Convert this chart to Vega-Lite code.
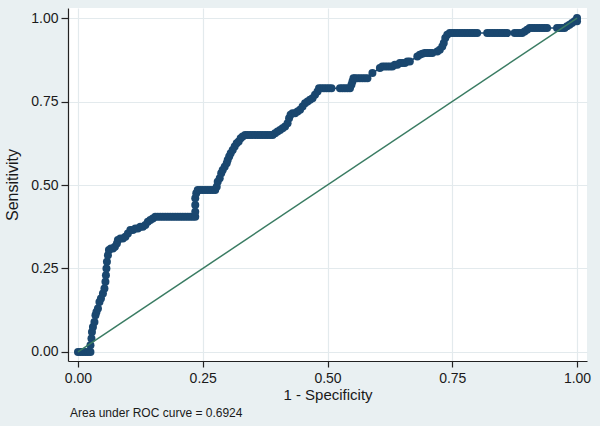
{
  "$schema": "https://vega.github.io/schema/vega-lite/v6.json",
  "width": 519,
  "height": 353,
  "autosize": {"type": "none"},
  "padding": {"left": 68, "top": 8, "right": 13, "bottom": 65},
  "background": "#e9f0f2",
  "config": {
    "font": "Liberation Sans",
    "view": {"fill": "white", "stroke": null},
    "axis": {
      "domainColor": "#222222",
      "domainWidth": 1.2,
      "tickColor": "#222222",
      "tickWidth": 1.2,
      "gridColor": "#e3eaed",
      "gridWidth": 1.2,
      "labelFont": "Liberation Sans",
      "labelFontSize": 14,
      "labelColor": "#1a1a1a",
      "titleFont": "Liberation Sans",
      "titleFontSize": 15,
      "titleFontWeight": "normal",
      "titleColor": "#1a1a1a"
    }
  },
  "title": {
    "text": "Area under ROC curve = 0.6924",
    "orient": "bottom",
    "anchor": "start",
    "frame": "group",
    "dx": 2,
    "offset": 6,
    "fontSize": 12,
    "fontWeight": "normal",
    "font": "Liberation Sans",
    "color": "#1a1a1a"
  },
  "datasets": {
    "roc": [
      {"fpr": 0, "sens": 0}, {"fpr": 0.005, "sens": 0}, {"fpr": 0.01, "sens": 0}, {"fpr": 0.015, "sens": 0}, {"fpr": 0.02, "sens": 0}, {"fpr": 0.025, "sens": 0},
      {"fpr": 0.025, "sens": 0.02}, {"fpr": 0.027, "sens": 0.04}, {"fpr": 0.028, "sens": 0.06}, {"fpr": 0.03, "sens": 0.075}, {"fpr": 0.033, "sens": 0.09},
      {"fpr": 0.035, "sens": 0.11}, {"fpr": 0.037, "sens": 0.12}, {"fpr": 0.04, "sens": 0.13}, {"fpr": 0.043, "sens": 0.15}, {"fpr": 0.046, "sens": 0.16},
      {"fpr": 0.05, "sens": 0.175}, {"fpr": 0.053, "sens": 0.19}, {"fpr": 0.055, "sens": 0.21}, {"fpr": 0.056, "sens": 0.23}, {"fpr": 0.057, "sens": 0.25},
      {"fpr": 0.058, "sens": 0.27}, {"fpr": 0.06, "sens": 0.29}, {"fpr": 0.062, "sens": 0.305}, {"fpr": 0.066, "sens": 0.31}, {"fpr": 0.07, "sens": 0.31},
      {"fpr": 0.074, "sens": 0.315}, {"fpr": 0.078, "sens": 0.325}, {"fpr": 0.08, "sens": 0.335}, {"fpr": 0.085, "sens": 0.34}, {"fpr": 0.09, "sens": 0.34},
      {"fpr": 0.095, "sens": 0.345}, {"fpr": 0.1, "sens": 0.355}, {"fpr": 0.105, "sens": 0.365}, {"fpr": 0.11, "sens": 0.365}, {"fpr": 0.115, "sens": 0.37},
      {"fpr": 0.12, "sens": 0.37}, {"fpr": 0.125, "sens": 0.375}, {"fpr": 0.13, "sens": 0.375}, {"fpr": 0.135, "sens": 0.38}, {"fpr": 0.14, "sens": 0.39},
      {"fpr": 0.145, "sens": 0.395}, {"fpr": 0.15, "sens": 0.4}, {"fpr": 0.155, "sens": 0.405},
      {"fpr": 0.16, "sens": 0.405}, {"fpr": 0.165, "sens": 0.405}, {"fpr": 0.17, "sens": 0.405}, {"fpr": 0.175, "sens": 0.405}, {"fpr": 0.18, "sens": 0.405},
      {"fpr": 0.185, "sens": 0.405}, {"fpr": 0.19, "sens": 0.405}, {"fpr": 0.195, "sens": 0.405}, {"fpr": 0.2, "sens": 0.405}, {"fpr": 0.205, "sens": 0.405},
      {"fpr": 0.21, "sens": 0.405}, {"fpr": 0.215, "sens": 0.405}, {"fpr": 0.22, "sens": 0.405}, {"fpr": 0.225, "sens": 0.405}, {"fpr": 0.23, "sens": 0.405},
      {"fpr": 0.235, "sens": 0.405}, {"fpr": 0.235, "sens": 0.42}, {"fpr": 0.235, "sens": 0.44}, {"fpr": 0.235, "sens": 0.46}, {"fpr": 0.237, "sens": 0.475},
      {"fpr": 0.24, "sens": 0.485}, {"fpr": 0.245, "sens": 0.485}, {"fpr": 0.25, "sens": 0.485}, {"fpr": 0.255, "sens": 0.485}, {"fpr": 0.26, "sens": 0.485},
      {"fpr": 0.265, "sens": 0.485}, {"fpr": 0.27, "sens": 0.485}, {"fpr": 0.275, "sens": 0.485},
      {"fpr": 0.278, "sens": 0.495}, {"fpr": 0.28, "sens": 0.51}, {"fpr": 0.284, "sens": 0.52}, {"fpr": 0.287, "sens": 0.535}, {"fpr": 0.29, "sens": 0.545},
      {"fpr": 0.294, "sens": 0.555}, {"fpr": 0.298, "sens": 0.565}, {"fpr": 0.3, "sens": 0.575}, {"fpr": 0.303, "sens": 0.585}, {"fpr": 0.306, "sens": 0.595},
      {"fpr": 0.31, "sens": 0.605}, {"fpr": 0.314, "sens": 0.615}, {"fpr": 0.318, "sens": 0.625}, {"fpr": 0.322, "sens": 0.63}, {"fpr": 0.326, "sens": 0.64},
      {"fpr": 0.33, "sens": 0.645}, {"fpr": 0.335, "sens": 0.65}, {"fpr": 0.34, "sens": 0.65}, {"fpr": 0.345, "sens": 0.65}, {"fpr": 0.35, "sens": 0.65},
      {"fpr": 0.355, "sens": 0.65}, {"fpr": 0.36, "sens": 0.65}, {"fpr": 0.365, "sens": 0.65}, {"fpr": 0.37, "sens": 0.65}, {"fpr": 0.375, "sens": 0.65},
      {"fpr": 0.38, "sens": 0.65}, {"fpr": 0.385, "sens": 0.65}, {"fpr": 0.39, "sens": 0.65},
      {"fpr": 0.395, "sens": 0.655}, {"fpr": 0.4, "sens": 0.66}, {"fpr": 0.405, "sens": 0.665}, {"fpr": 0.41, "sens": 0.67}, {"fpr": 0.415, "sens": 0.675},
      {"fpr": 0.42, "sens": 0.685}, {"fpr": 0.423, "sens": 0.7}, {"fpr": 0.426, "sens": 0.71}, {"fpr": 0.43, "sens": 0.715}, {"fpr": 0.435, "sens": 0.715},
      {"fpr": 0.44, "sens": 0.72}, {"fpr": 0.445, "sens": 0.725}, {"fpr": 0.45, "sens": 0.735}, {"fpr": 0.455, "sens": 0.745}, {"fpr": 0.46, "sens": 0.75},
      {"fpr": 0.465, "sens": 0.755}, {"fpr": 0.47, "sens": 0.76}, {"fpr": 0.475, "sens": 0.77}, {"fpr": 0.48, "sens": 0.78}, {"fpr": 0.483, "sens": 0.79},
      {"fpr": 0.488, "sens": 0.79}, {"fpr": 0.493, "sens": 0.79}, {"fpr": 0.498, "sens": 0.79}, {"fpr": 0.503, "sens": 0.79}, {"fpr": 0.508, "sens": 0.79},
      {"fpr": 0.525, "sens": 0.79}, {"fpr": 0.53, "sens": 0.79}, {"fpr": 0.535, "sens": 0.79}, {"fpr": 0.54, "sens": 0.79}, {"fpr": 0.545, "sens": 0.79},
      {"fpr": 0.548, "sens": 0.8}, {"fpr": 0.55, "sens": 0.81}, {"fpr": 0.552, "sens": 0.82}, {"fpr": 0.555, "sens": 0.82}, {"fpr": 0.56, "sens": 0.82},
      {"fpr": 0.565, "sens": 0.82}, {"fpr": 0.57, "sens": 0.82}, {"fpr": 0.575, "sens": 0.82}, {"fpr": 0.58, "sens": 0.82},
      {"fpr": 0.59, "sens": 0.835},
      {"fpr": 0.605, "sens": 0.85}, {"fpr": 0.61, "sens": 0.855}, {"fpr": 0.615, "sens": 0.855}, {"fpr": 0.62, "sens": 0.855}, {"fpr": 0.625, "sens": 0.855},
      {"fpr": 0.63, "sens": 0.855}, {"fpr": 0.635, "sens": 0.86}, {"fpr": 0.64, "sens": 0.86}, {"fpr": 0.645, "sens": 0.865}, {"fpr": 0.65, "sens": 0.865},
      {"fpr": 0.655, "sens": 0.865}, {"fpr": 0.66, "sens": 0.87}, {"fpr": 0.665, "sens": 0.87},
      {"fpr": 0.68, "sens": 0.885}, {"fpr": 0.685, "sens": 0.89}, {"fpr": 0.69, "sens": 0.893}, {"fpr": 0.695, "sens": 0.895}, {"fpr": 0.7, "sens": 0.895},
      {"fpr": 0.705, "sens": 0.895}, {"fpr": 0.71, "sens": 0.895}, {"fpr": 0.72, "sens": 0.9}, {"fpr": 0.725, "sens": 0.905}, {"fpr": 0.73, "sens": 0.915},
      {"fpr": 0.733, "sens": 0.925}, {"fpr": 0.736, "sens": 0.94}, {"fpr": 0.74, "sens": 0.95},
      {"fpr": 0.745, "sens": 0.955}, {"fpr": 0.75, "sens": 0.955}, {"fpr": 0.755, "sens": 0.955}, {"fpr": 0.76, "sens": 0.955}, {"fpr": 0.765, "sens": 0.955},
      {"fpr": 0.77, "sens": 0.955}, {"fpr": 0.775, "sens": 0.955}, {"fpr": 0.78, "sens": 0.955}, {"fpr": 0.785, "sens": 0.955}, {"fpr": 0.79, "sens": 0.955},
      {"fpr": 0.795, "sens": 0.955}, {"fpr": 0.8, "sens": 0.955},
      {"fpr": 0.82, "sens": 0.955}, {"fpr": 0.825, "sens": 0.955}, {"fpr": 0.83, "sens": 0.955}, {"fpr": 0.835, "sens": 0.955}, {"fpr": 0.84, "sens": 0.955},
      {"fpr": 0.845, "sens": 0.955}, {"fpr": 0.85, "sens": 0.955}, {"fpr": 0.855, "sens": 0.955}, {"fpr": 0.86, "sens": 0.955},
      {"fpr": 0.875, "sens": 0.955}, {"fpr": 0.88, "sens": 0.955}, {"fpr": 0.885, "sens": 0.955}, {"fpr": 0.89, "sens": 0.955}, {"fpr": 0.895, "sens": 0.96},
      {"fpr": 0.9, "sens": 0.965}, {"fpr": 0.905, "sens": 0.97}, {"fpr": 0.91, "sens": 0.97}, {"fpr": 0.915, "sens": 0.97}, {"fpr": 0.92, "sens": 0.97},
      {"fpr": 0.925, "sens": 0.97}, {"fpr": 0.93, "sens": 0.97}, {"fpr": 0.935, "sens": 0.97}, {"fpr": 0.94, "sens": 0.97},
      {"fpr": 0.96, "sens": 0.97}, {"fpr": 0.965, "sens": 0.97}, {"fpr": 0.97, "sens": 0.97}, {"fpr": 0.975, "sens": 0.97}, {"fpr": 0.98, "sens": 0.975},
      {"fpr": 0.985, "sens": 0.98}, {"fpr": 0.99, "sens": 0.985}, {"fpr": 0.995, "sens": 0.99}, {"fpr": 1, "sens": 0.99}, {"fpr": 1, "sens": 1}
    ],
    "ref": [{"fpr": 0, "sens": 0}, {"fpr": 1, "sens": 1}]
  },
  "encoding": {
    "x": {
      "field": "fpr",
      "type": "quantitative",
      "scale": {"domain": [-0.02, 1.02], "nice": false, "zero": false},
      "axis": {
        "values": [0, 0.25, 0.5, 0.75, 1],
        "format": ".2f",
        "title": "1 - Specificity",
        "tickSize": 6,
        "labelPadding": 4,
        "titlePadding": 2
      }
    },
    "y": {
      "field": "sens",
      "type": "quantitative",
      "scale": {"domain": [-0.027, 1.03], "nice": false, "zero": false},
      "axis": {
        "values": [0, 0.25, 0.5, 0.75, 1],
        "format": ".2f",
        "title": "Sensitivity",
        "titleFontSize": 16,
        "tickSize": 7,
        "labelPadding": 3,
        "titlePadding": 10
      }
    }
  },
  "layer": [
    {
      "data": {"name": "roc"},
      "mark": {"type": "line", "color": "#1a476f", "strokeWidth": 1.5},
      "encoding": {"order": {"value": null}}
    },
    {
      "data": {"name": "roc"},
      "mark": {"type": "point", "shape": "circle", "filled": true, "size": 64, "color": "#1a476f", "opacity": 1}
    },
    {
      "data": {"name": "ref"},
      "mark": {"type": "line", "color": "#3a7c63", "strokeWidth": 1.5},
      "encoding": {}
    }
  ]
}
